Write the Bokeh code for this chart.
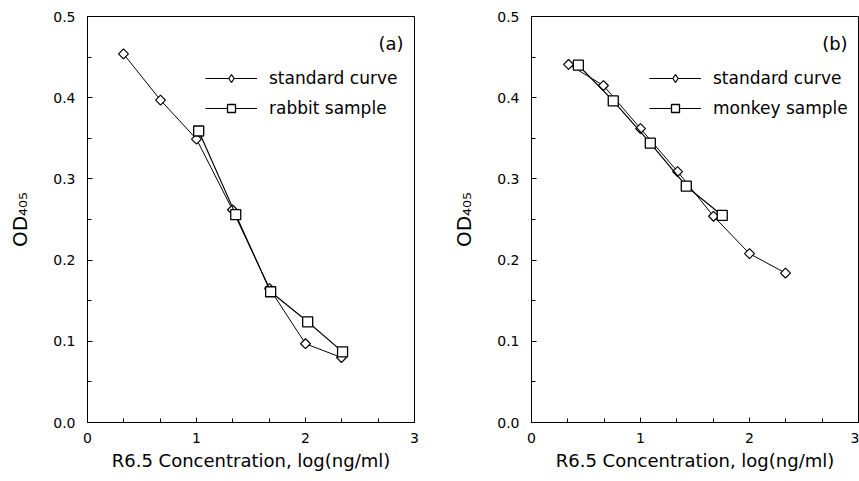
from bokeh.plotting import figure
from bokeh.layouts import row
from bokeh.models import Range1d, Legend, LegendItem, Label, NumeralTickFormatter, FixedTicker
from bokeh.embed import file_html
from bokeh.resources import INLINE

FONT = "DejaVu Sans"

# Panel (a)
std_a_x = [0.33, 0.67, 1.00, 1.33, 1.67, 2.00, 2.33]
std_a_y = [0.454, 0.397, 0.349, 0.262, 0.165, 0.097, 0.080]
rab_x = [1.02, 1.36, 1.68, 2.02, 2.34]
rab_y = [0.359, 0.256, 0.161, 0.124, 0.087]

# Panel (b)
std_b_x = [0.34, 0.66, 1.00, 1.34, 1.67, 2.00, 2.33]
std_b_y = [0.441, 0.415, 0.362, 0.309, 0.254, 0.208, 0.184]
mon_x = [0.43, 0.75, 1.09, 1.42, 1.75]
mon_y = [0.440, 0.396, 0.344, 0.291, 0.255]

x_label = "R6.5 Concentration, log(ng/ml)"
y_label = "OD₄₀₅"
x_ticks = [0, 1, 2, 3]
y_ticks = [0.0, 0.1, 0.2, 0.3, 0.4, 0.5]


def make_panel(width, left, right, sx, sy, ox, oy, other_name, tag):
    p = figure(width=width, height=481, output_backend="svg", toolbar_location=None,
               x_range=Range1d(0, 3), y_range=Range1d(0, 0.5),
               min_border_left=left, min_border_right=right,
               min_border_top=16, min_border_bottom=59)
    p.xgrid.visible = False
    p.ygrid.visible = False
    p.outline_line_color = "black"
    p.outline_line_width = 1
    p.background_fill_color = "white"
    p.border_fill_color = "white"

    p.xaxis.ticker = FixedTicker(ticks=x_ticks, minor_ticks=[i / 3 for i in range(10)])
    p.yaxis.ticker = FixedTicker(ticks=y_ticks, minor_ticks=[i * 0.05 for i in range(11)])
    p.yaxis.formatter = NumeralTickFormatter(format="0.0")

    for ax in (p.xaxis[0], p.yaxis[0]):
        ax.major_tick_in = 5
        ax.major_tick_out = 0
        ax.minor_tick_in = 4
        ax.minor_tick_out = 0
        ax.axis_line_color = "black"
        ax.major_tick_line_color = "black"
        ax.minor_tick_line_color = "black"
        ax.major_label_text_font = FONT
        ax.major_label_text_font_size = "14px"
        ax.major_label_text_color = "black"
        ax.axis_label_text_font = FONT
        ax.axis_label_text_font_style = "normal"
        ax.axis_label_text_color = "black"

    p.xaxis.axis_label = x_label
    p.xaxis.axis_label_text_font_size = "18px"
    p.xaxis.major_label_standoff = 10
    p.xaxis.axis_label_standoff = 4

    p.yaxis.axis_label = y_label
    p.yaxis.axis_label_text_font_size = "20px"
    p.yaxis.major_label_standoff = 12
    p.yaxis.axis_label_standoff = 18

    l1 = p.line(sx, sy, line_color="black", line_width=1)
    # legend sample glyph (a diamond), hidden beneath the first data marker
    k1 = p.scatter(sx[:1], sy[:1], marker="diamond", size=9, fill_color="white",
                   line_color="black", line_width=1.2)
    m1 = p.scatter(sx, sy, marker="square", angle=45, angle_units="deg", size=7,
                   fill_color="white", line_color="black", line_width=1.2)
    l2 = p.line(ox, oy, line_color="black", line_width=1.2)
    m2 = p.scatter(ox, oy, marker="square", size=10, fill_color="white",
                   line_color="black", line_width=1.3)

    legend = Legend(items=[LegendItem(label="standard curve", renderers=[l1, k1]),
                           LegendItem(label=other_name, renderers=[l2, m2])],
                    location=(118, 304), orientation="vertical",
                    glyph_width=52, glyph_height=20, label_height=20, spacing=10,
                    padding=0, margin=0, label_standoff=12,
                    border_line_color=None, background_fill_alpha=0,
                    label_text_font=FONT, label_text_font_size="17px",
                    label_text_color="black")
    p.add_layout(legend, "center")

    p.add_layout(Label(x=2.9, y=0.467, text=tag, text_align="right", text_baseline="middle",
                       text_font=FONT, text_font_size="18px", text_color="black"))
    return p


pa = make_panel(430, 87, 16, std_a_x, std_a_y, rab_x, rab_y, "rabbit sample", "(a)")
pb = make_panel(429, 101, 1, std_b_x, std_b_y, mon_x, mon_y, "monkey sample", "(b)")

layout = row(pa, pb, spacing=0)
open("out.html", "w").write(file_html(layout, INLINE))
